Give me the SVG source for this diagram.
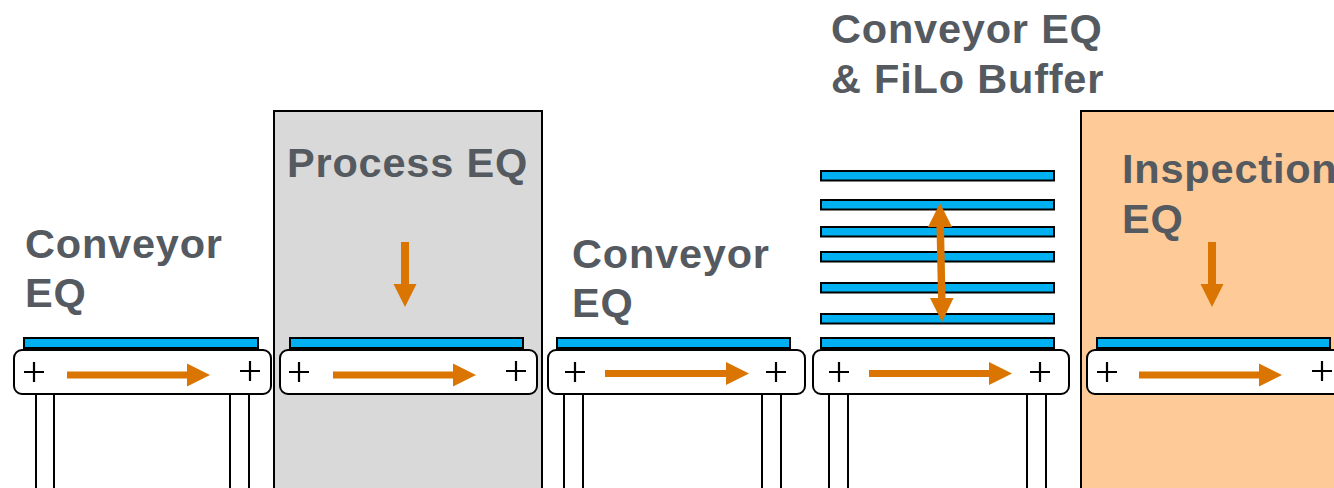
<svg xmlns="http://www.w3.org/2000/svg" width="1334" height="488" viewBox="0 0 1334 488">
<style>
.lbl{font-family:"Liberation Sans",Arial,sans-serif;font-weight:bold;font-size:41.5px;fill:#545a60;letter-spacing:0.8px}
.belt{fill:#00b0f0;stroke:#000;stroke-width:2}
.body{fill:#fff;stroke:#000;stroke-width:2}
.leg{fill:#fff;stroke:#000;stroke-width:2}
.plus{stroke:#000;stroke-width:2.2;fill:none}
.arr{fill:#d97500;stroke:none}
</style>
<rect width="1334" height="488" fill="#fff"/>

<g id="process-eq">
<rect x="274" y="111" width="268" height="390" fill="#d9d9d9" stroke="#000" stroke-width="2"/>
<text class="lbl" x="287" y="177" font-size="42">Process EQ</text>
</g>

<g id="inspection-eq">
<rect x="1081" y="111" width="270" height="390" fill="#fdca98" stroke="#000" stroke-width="2"/>
<text class="lbl" x="1122" y="183" font-size="42">Inspection</text>
<text class="lbl" x="1122" y="233" font-size="42">EQ</text>
</g>

<g id="conveyor-1">
<rect class="leg" x="36" y="394" width="18" height="100"/>
<rect class="leg" x="230" y="394" width="19" height="100"/>
<rect class="belt" x="24" y="338" width="234" height="10"/>
<rect class="body" x="14" y="350" width="257" height="44" rx="8"/>
<path class="plus" d="M24 372H44M34 362V382M240 371H260M250 361V381"/>
<text class="lbl" x="25" y="258">Conveyor</text>
<text class="lbl" x="25" y="307">EQ</text>
</g>

<g id="conveyor-2">
<rect class="belt" x="290" y="338" width="233" height="10"/>
<rect class="body" x="280" y="350" width="257" height="44" rx="8"/>
<path class="plus" d="M289 372H309M299 362V382M506 371H526M516 361V381"/>
</g>

<g id="conveyor-3">
<rect class="leg" x="564" y="394" width="19" height="100"/>
<rect class="leg" x="762" y="394" width="19" height="100"/>
<rect class="belt" x="557" y="338" width="233" height="10"/>
<rect class="body" x="548" y="350" width="257" height="44" rx="8"/>
<path class="plus" d="M565 372H585M575 362V382M766 372H786M776 362V382"/>
<text class="lbl" x="572" y="268">Conveyor</text>
<text class="lbl" x="572" y="317">EQ</text>
</g>

<g id="conveyor-4-filo-buffer">
<rect class="leg" x="829" y="394" width="19" height="100"/>
<rect class="leg" x="1027" y="394" width="19" height="100"/>
<rect class="belt" x="821" y="171" width="233" height="9.5"/>
<rect class="belt" x="821" y="200" width="233" height="9.5"/>
<rect class="belt" x="821" y="227" width="233" height="9.5"/>
<rect class="belt" x="821" y="252" width="233" height="9.5"/>
<rect class="belt" x="821" y="283" width="233" height="9.5"/>
<rect class="belt" x="821" y="314" width="233" height="9.5"/>
<rect class="belt" x="821" y="338" width="233" height="10"/>
<rect class="body" x="813" y="350" width="256" height="44" rx="8"/>
<path class="plus" d="M829 372H849M839 362V382M1030 372H1050M1040 362V382"/>
<text class="lbl" x="831" y="43">Conveyor EQ</text>
<text class="lbl" x="831" y="93">&amp; FiLo Buffer</text>
</g>

<g id="conveyor-5">
<rect class="belt" x="1097" y="338" width="233" height="10"/>
<rect class="body" x="1087" y="350" width="257" height="44" rx="8"/>
<path class="plus" d="M1097 372H1117M1107 362V382M1312 371H1332M1322 361V381"/>
</g>

<g id="connectors">
<path class="arr" d="M67 371.5H187V363.5L210 375L187 386.5V378.5H67Z"/>
<path class="arr" d="M333 371.5H453V363.5L476 375L453 386.5V378.5H333Z"/>
<path class="arr" d="M605 370H726V362L749 373.5L726 385V377H605Z"/>
<path class="arr" d="M869 370H989V362L1012 373.5L989 385V377H869Z"/>
<path class="arr" d="M1139 371.5H1259V363.5L1282 375L1259 386.5V378.5H1139Z"/>
<path class="arr" d="M401 242H409V284H416.5L405 307L393.5 284H401Z"/>
<path class="arr" d="M1208 242H1216V284H1223.5L1212 307L1200.5 284H1208Z"/>
<path class="arr" d="M940 203L952 227H944L945.5 298H953.5L942 322L930 298H938L936.5 227H928Z"/>
</g>
</svg>
